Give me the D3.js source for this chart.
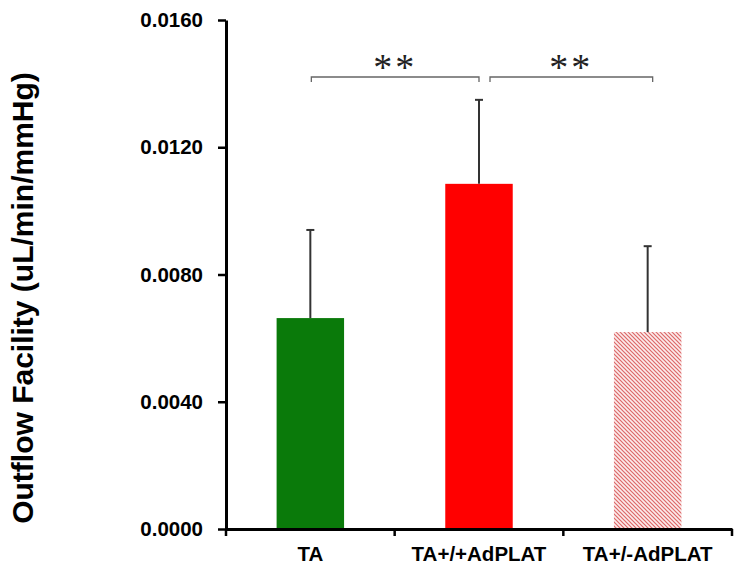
<!DOCTYPE html>
<html><head><meta charset="utf-8">
<script src="https://cdn.jsdelivr.net/npm/d3@7"></script>
<style>html,body{margin:0;padding:0;background:#fff;}svg{display:block;}</style>
</head><body>
<svg id="chart" width="744" height="571"></svg>
<script>
const categories = ["TA", "TA+/+AdPLAT", "TA+/-AdPLAT"];
const means = [0.00663, 0.01085, 0.00619];
const errors = [0.00277, 0.00264, 0.00270];
const yTicks = [0, 0.004, 0.008, 0.012, 0.016];
const brackets = [["TA", "TA+/+AdPLAT", "**"], ["TA+/+AdPLAT", "TA+/-AdPLAT", "**"]];

(function () {
const svg = d3.select("#chart");
const mLeft = 226, mRight = 732, mTop = 20, mBottom = 529;
const x = d3.scaleBand().domain(categories).range([mLeft, mRight]).paddingInner(0.6).paddingOuter(0.3);
const y = d3.scaleLinear().domain([0, 0.016]).range([mBottom, mTop]);

const defs = svg.append("defs");
const pat = defs.append("pattern").attr("id", "hatch").attr("patternUnits", "userSpaceOnUse")
  .attr("width", 4).attr("height", 4);
pat.append("rect").attr("width", 4).attr("height", 4).attr("fill", "#fcecec");
pat.append("path").attr("d", "M-1,-1 L5,5 M-1,3 L1,5 M3,-1 L5,1").attr("stroke", "#dc6868").attr("stroke-width", 1.2);

const fills = ["#0a7a0a", "#ff0000", "url(#hatch)"];

svg.selectAll(".bar").data(categories).enter().append("rect")
  .attr("x", d => x(d)).attr("width", x.bandwidth())
  .attr("y", (d, i) => y(means[i])).attr("height", (d, i) => y(0) - y(means[i]))
  .attr("fill", (d, i) => fills[i]);

const eb = svg.append("g").attr("stroke", "#333").attr("stroke-width", 2);
categories.forEach((c, i) => {
  const cx = x(c) + x.bandwidth() / 2;
  eb.append("line").attr("x1", cx).attr("x2", cx).attr("y1", y(means[i])).attr("y2", y(means[i] + errors[i]));
  eb.append("line").attr("x1", cx - 4).attr("x2", cx + 4).attr("y1", y(means[i] + errors[i])).attr("y2", y(means[i] + errors[i]));
});

const yAxis = d3.axisLeft(y).tickValues(yTicks).tickFormat(d3.format(".4f")).tickSize(8).tickPadding(15).tickSizeOuter(0);
const gy = svg.append("g").attr("transform", `translate(${mLeft},0)`).call(yAxis);
gy.select(".domain").attr("stroke", "#000").attr("stroke-width", 3);
gy.selectAll(".tick line").attr("stroke", "#000").attr("stroke-width", 2.5);
gy.selectAll(".tick text").attr("font-family", "Liberation Sans, Arial, sans-serif")
  .attr("font-size", 20.5).attr("font-weight", "bold").attr("fill", "#000");

const xAxis = d3.axisBottom(x).tickSize(0).tickPadding(17).tickSizeOuter(0);
const gx = svg.append("g").attr("transform", `translate(0,${mBottom})`).call(xAxis);
gx.select(".domain").attr("stroke", "#000").attr("stroke-width", 3);
gx.selectAll(".tick text").attr("font-family", "Liberation Sans, Arial, sans-serif")
  .attr("font-size", 20.5).attr("font-weight", "bold").attr("fill", "#000");
const step = x.step();
const bounds = d3.range(categories.length + 1).map(i => mLeft + i * step);
gx.selectAll(".btick").data(bounds).enter().append("line")
  .attr("x1", d => d).attr("x2", d => d).attr("y1", 0).attr("y2", 7)
  .attr("stroke", "#000").attr("stroke-width", 2.5);

svg.append("text").attr("transform", "translate(33,298) rotate(-90)")
  .attr("text-anchor", "middle").attr("font-family", "Liberation Sans, Arial, sans-serif")
  .attr("font-size", 30).attr("font-weight", "bold").attr("fill", "#000")
  .text("Outflow Facility (uL/min/mmHg)");

const by = 77;
brackets.forEach((b, i) => {
  const x1 = x(b[0]) + x.bandwidth() / 2 + (i === 0 ? 1 : 11);
  const x2 = x(b[1]) + x.bandwidth() / 2 + (i === 0 ? 0 : 5);
  svg.append("path").attr("d", `M${x1},${by + 5} L${x1},${by} L${x2},${by} L${x2},${by + 5}`)
    .attr("fill", "none").attr("stroke", "#666").attr("stroke-width", 1.3);
  svg.append("text").attr("x", (x1 + x2) / 2).attr("y", 80).attr("text-anchor", "middle")
    .attr("font-family", "Liberation Serif, Times New Roman, serif").attr("font-size", 38)
    .attr("letter-spacing", 3)
    .attr("fill", "#222").text(b[2]);
});
})();
</script>
</body></html>
